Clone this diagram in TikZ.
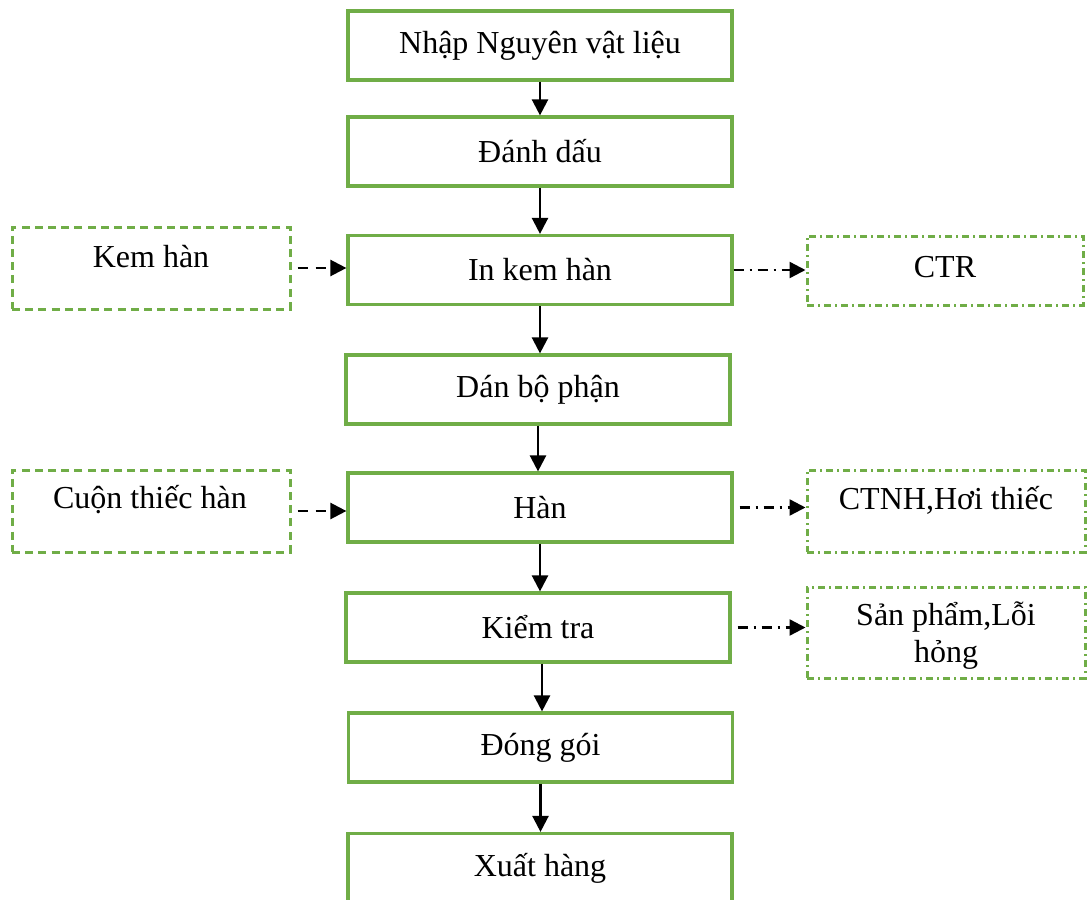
\documentclass[tikz,border=0pt]{standalone}
\usepackage{fontspec}
\setmainfont{Liberation Serif}
\usetikzlibrary{arrows.meta}
\definecolor{boxgreen}{HTML}{70AD47}
\tikzset{
  mainbox/.style={draw=boxgreen,line width=1.6pt,minimum width=192pt,minimum height=34.5pt,inner sep=0pt},
  inbox/.style={draw=boxgreen,line width=1.5pt,dash pattern=on 4pt off 2.6pt,inner sep=0pt},
  outbox/.style={draw=boxgreen,line width=1.5pt,dash pattern=on 3.5pt off 2pt on 1pt off 2pt,inner sep=0pt},
  flow/.style={-{Triangle[length=8pt,width=8pt]},line width=1.2pt},
  feed/.style={flow,dash pattern=on 5pt off 4pt},
  waste/.style={flow,dash pattern=on 5pt off 3pt on 1pt off 3pt}
}
\begin{document}
\begin{tikzpicture}[x=0.5pt,y=-0.5pt,font=\fontsize{16pt}{18.5pt}\selectfont]
\useasboundingbox (0,0) rectangle (1088,900);
      \node [mainbox] at (540,45.5) (nhap) {Nhập Nguyên vật liệu};
       \node [mainbox] at (540,151.5) (danh dau) {Đánh dấu};
        \node [mainbox] at (540,270) (in kem) {In kem hàn};
         \node [mainbox] at (538,389.5) (dan) {Dán bộ phận};
          \node [mainbox] at (540,507.5) (han) {Hàn};
           \node [mainbox] at (538,627.5) (kiem tra) {Kiểm tra};
            \node [mainbox] at (540.5,747.5) (dong goi) {Đóng gói};
             \node [mainbox] at (540,868) (xuat) {Xuất hàng};
%
              \node [inbox,minimum width=139pt,minimum height=41pt] at (151,268) (kem) {};
               \node at (151,257) (kem txt) {Kem hàn};
              \node [inbox,minimum width=139pt,minimum height=41pt] at (151,511) (cuon) {};
               \node at (150,500) (cuon txt) {Cuộn thiếc hàn};
              \node [outbox,minimum width=138pt,minimum height=34.5pt] at (945,270.5) (ctr) {};
               \node at (945,267) (ctr txt) {CTR};
              \node [outbox,minimum width=139pt,minimum height=41pt] at (946,511) (ctnh) {};
               \node at (946,500) (ctnh txt) {CTNH,Hơi thiếc};
              \node [outbox,minimum width=139pt,minimum height=45.5pt] at (946,632.5) (loi) {};
               \node [align=center] at (946,636) (loi txt) {Sản phẩm,Lỗi\\hỏng};
%
%
\path[flow] (nhap) edge (danh dau);
\path[flow] (danh dau) edge (in kem);
\path[flow] (in kem) edge (in kem |- dan.north);
\path[flow] (dan) edge (dan |- han.north);
\path[flow] (han) edge (han |- kiem tra.north);
\path[flow] ([xshift=2pt]kiem tra.south) edge ([xshift=2pt]kiem tra.south |- dong goi.north);
\path[flow] (dong goi) edge (dong goi |- xuat.north);
\path[feed,shorten <=3pt] (kem.east) edge (kem.east -| in kem.west);
\path[feed,shorten <=3pt] (cuon.east) edge (cuon.east -| han.west);
\path[waste] (in kem.east) edge (in kem.east -| ctr.west);
\path[waste,shorten <=3pt] (han.east) edge (han.east -| ctnh.west);
\path[waste,shorten <=3pt] (kiem tra.east) edge (kiem tra.east -| loi.west);

\end{tikzpicture}
\end{document}
